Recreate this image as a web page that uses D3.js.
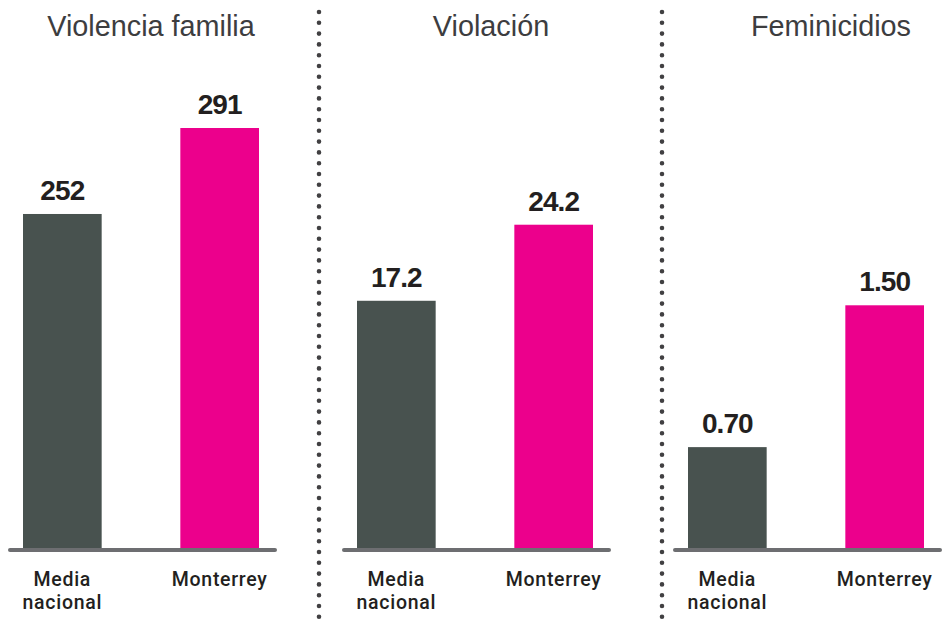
<!DOCTYPE html>
<html>
<head>
<meta charset="utf-8">
<script src="https://cdn.jsdelivr.net/npm/d3@7"></script>
<style>
  body { margin: 0; background: #fff; }
  svg { display: block; }
</style>
</head>
<body>
<svg id="chart" width="942" height="621"></svg>
<script>
// data
var panels = ["Violencia familia", "Violación", "Feminicidios"];
var categories = ["Media nacional", "Monterrey"];
var mediaNacional = [252, 17.2, 0.70];
var monterrey = [291, 24.2, 1.50];
var valueFormats = [".0f", ".1f", ".2f"];
// each panel has its own (non-zero based) value axis
var yDomains = [[100.5, 291], [-5.55, 33.1], [0.131, 2.5]];

// layout
var panelX = [8, 342, 673],
    panelWidth = 269,
    baseline = 548,
    topY = 128,
    titleCenter = [143, 149, 158],
    separators = [319, 662];

var colors = ["#48524f", "#ec008c"];

var svg = d3.select("#chart");

// dotted separators
svg.selectAll(".sep")
    .data(separators)
  .enter().append("line")
    .attr("class", "sep")
    .attr("x1", function(d) { return d; })
    .attr("x2", function(d) { return d; })
    .attr("y1", 12)
    .attr("y2", 625)
    .attr("stroke", "#414042")
    .attr("stroke-width", 4.6)
    .attr("stroke-linecap", "round")
    .attr("stroke-dasharray", "0 10.8");

panels.forEach(function(name, i) {
  var g = svg.append("g")
      .attr("transform", "translate(" + panelX[i] + ",0)");

  var rows = categories.map(function(c, j) {
    return {cat: c, value: j === 0 ? mediaNacional[i] : monterrey[i]};
  });

  var x = d3.scaleBand()
      .domain(categories)
      .range([15, 251])
      .paddingInner(0.5)
      .paddingOuter(0);
  var y = d3.scaleLinear()
      .domain(yDomains[i])
      .range([baseline, topY]);
  var fmt = d3.format(valueFormats[i]);

  // title
  g.append("text")
      .attr("x", titleCenter[i])
      .attr("y", 36)
      .attr("text-anchor", "middle")
      .attr("font-family", "'Liberation Sans', Arial, sans-serif")
      .attr("font-size", 28.8)
      .attr("fill", "#3d3d3f")
      .text(name);

  // bars
  g.selectAll(".bar")
      .data(rows)
    .enter().append("rect")
      .attr("class", "bar")
      .attr("x", function(d) { return x(d.cat); })
      .attr("width", x.bandwidth())
      .attr("y", function(d) { return y(d.value); })
      .attr("height", function(d) { return baseline - y(d.value); })
      .attr("fill", function(d, j) { return colors[j]; });

  // value labels
  g.selectAll(".val")
      .data(rows)
    .enter().append("text")
      .attr("class", "val")
      .attr("x", function(d) { return x(d.cat) + x.bandwidth() / 2; })
      .attr("y", function(d) { return y(d.value) - 14; })
      .attr("text-anchor", "middle")
      .attr("font-family", "'Liberation Sans', Arial, sans-serif")
      .attr("font-weight", "bold")
      .attr("font-size", 28)
      .attr("letter-spacing", "-0.9")
      .attr("fill", "#231f20")
      .text(function(d) { return fmt(d.value); });

  // baseline axis
  g.append("line")
      .attr("x1", 2)
      .attr("x2", panelWidth - 2)
      .attr("y1", baseline + 2)
      .attr("y2", baseline + 2)
      .attr("stroke", "#6d6e71")
      .attr("stroke-width", 4)
      .attr("stroke-linecap", "round");

  // category labels (one text per line)
  categories.forEach(function(c) {
    c.split(" ").forEach(function(w, k) {
      g.append("text")
          .attr("class", "cat")
          .attr("x", x(c) + x.bandwidth() / 2)
          .attr("y", 586 + k * 23)
          .attr("text-anchor", "middle")
          .attr("font-family", "Roboto, 'Open Sans', sans-serif")
          .attr("font-weight", 500)
          .attr("font-size", 19.5)
          .attr("letter-spacing", "0.7")
          .attr("fill", "#231f20")
          .text(w);
    });
  });
});
</script>
</body>
</html>
